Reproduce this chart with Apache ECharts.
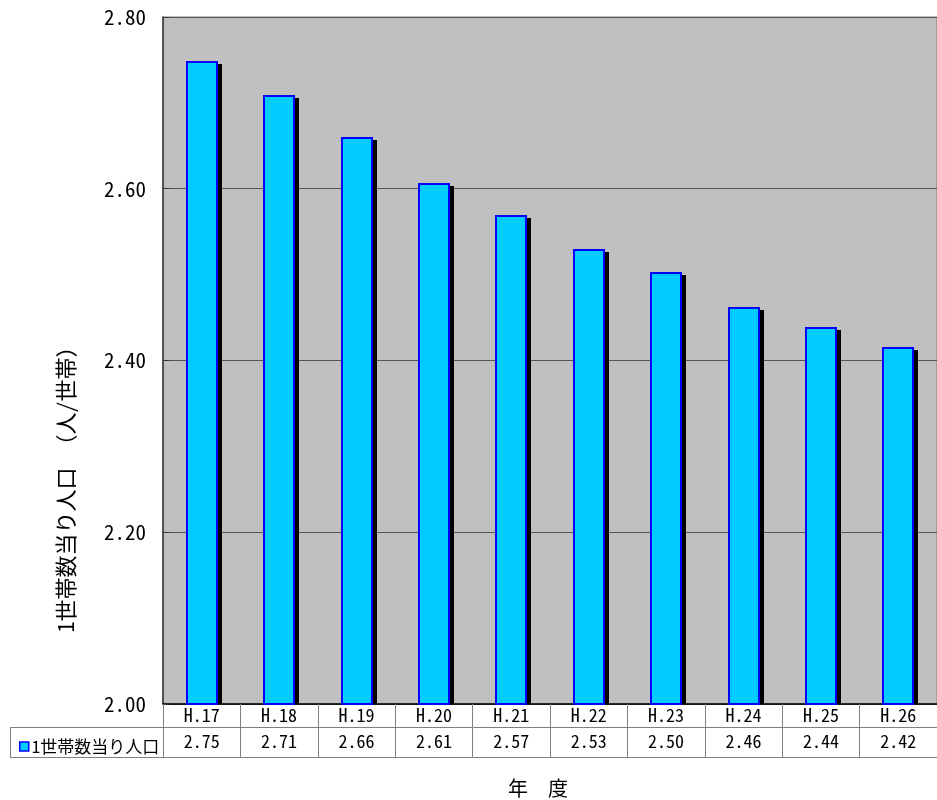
<!DOCTYPE html>
<html><head><meta charset="utf-8">
<script src="https://cdn.jsdelivr.net/npm/echarts@6/dist/echarts.min.js"></script>
<style>html,body{margin:0;padding:0;background:#fff}#c{width:937px;height:800px}</style>
</head><body><div id="c"></div>
<script>
const categories = ['H.17','H.18','H.19','H.20','H.21','H.22','H.23','H.24','H.25','H.26'];
const values = [2.749, 2.709, 2.660, 2.607, 2.569, 2.530, 2.503, 2.462, 2.439, 2.416];
const seriesName = '1世帯数当り人口';
const yTicks = {min: 2.0, max: 2.8, interval: 0.2};
const yTitle = '1世帯数当り人口　（人/世帯）';
const xTitle = '年　度';

const FONT = '"Noto Sans Mono CJK JP", "Noto Sans CJK JP", "DejaVu Sans Mono", monospace';
const BAR_W = 32;
const chart = echarts.init(document.getElementById('c'), null, {renderer: 'canvas'});
chart.setOption({
  animation: false,
  textStyle: {fontFamily: FONT, color: '#000'},
  grid: {left: 163, top: 17, right: -8, bottom: 96, show: true, backgroundColor: '#c0c0c0', borderColor: '#808080', borderWidth: 1},
  legend: {
    left: 14, top: 733, itemWidth: 9, itemHeight: 9, icon: 'rect', itemGap: 4,
    data: [seriesName],
    textStyle: {fontSize: 17, fontFamily: FONT, color: '#000', padding: [0,0,0,-2]},
    itemStyle: {color: '#00ccff', borderColor: '#0000ff', borderWidth: 1.5}
  },
  xAxis: [
    {
      type: 'category', data: categories, position: 'bottom',
      axisLine: {lineStyle: {color: '#000', width: 1.5}},
      axisTick: {show: true, length: 54, lineStyle: {color: '#808080', width: 1}},
      axisLabel: {fontSize: 18, margin: 2, color: '#000', fontFamily: FONT}
    },
    {
      type: 'category', data: categories, position: 'bottom', offset: 27,
      axisLine: {show: false}, axisTick: {show: false},
      axisLabel: {fontSize: 18, margin: 1, color: '#000', fontFamily: FONT,
        formatter: (v, i) => values[i].toFixed(2)}
    }
  ],
  yAxis: {
    type: 'value', min: yTicks.min, max: yTicks.max, interval: yTicks.interval,
    axisLine: {show: true, lineStyle: {color: '#333', width: 1.5}},
    axisTick: {show: true, inside: true, length: 6, lineStyle: {color: '#333'}},
    axisLabel: {fontSize: 21, margin: 17, color: '#000', fontFamily: FONT, formatter: v => v.toFixed(2)},
    splitLine: {show: true, lineStyle: {color: '#555', width: 1}}
  },
  series: [{
    name: seriesName, type: 'custom', data: values.map((v, i) => [i, v]),
    itemStyle: {color: '#00ccff', borderColor: '#0000ff'},
    renderItem: function (params, api) {
      const top = api.coord([api.value(0), api.value(1)]);
      const base = api.coord([api.value(0), yTicks.min]);
      const x = Math.round(top[0] - BAR_W / 2);
      const y = Math.round(top[1]);
      const h = base[1] - y;
      return {
        type: 'group',
        children: [
          {type: 'rect', shape: {x: x + 4, y: y + 3, width: BAR_W, height: h - 3},
            style: {fill: '#000'}},
          {type: 'rect', shape: {x: x + 1, y: y + 1, width: BAR_W - 2, height: h - 1},
            style: {fill: '#00ccff', stroke: '#0000ff', lineWidth: 2}}
        ]
      };
    }
  }],
  graphic: [
    {type: 'line', shape: {x1: 10, y1: 727.5, x2: 937, y2: 727.5}, style: {stroke: '#808080', lineWidth: 1}},
    {type: 'line', shape: {x1: 10, y1: 757.5, x2: 937, y2: 757.5}, style: {stroke: '#808080', lineWidth: 1}},
    {type: 'line', shape: {x1: 10.5, y1: 727, x2: 10.5, y2: 758}, style: {stroke: '#808080', lineWidth: 1}},
    {type: 'text', x: 66, y: 484, rotation: Math.PI/2,
      style: {text: yTitle, fontSize: 22, fontFamily: FONT, fill: '#000', align: 'center', verticalAlign: 'middle'}},
    {type: 'text', x: 538, y: 788,
      style: {text: xTitle, fontSize: 20, fontFamily: FONT, fill: '#000', align: 'center', verticalAlign: 'middle'}}
  ]
});
</script></body></html>
